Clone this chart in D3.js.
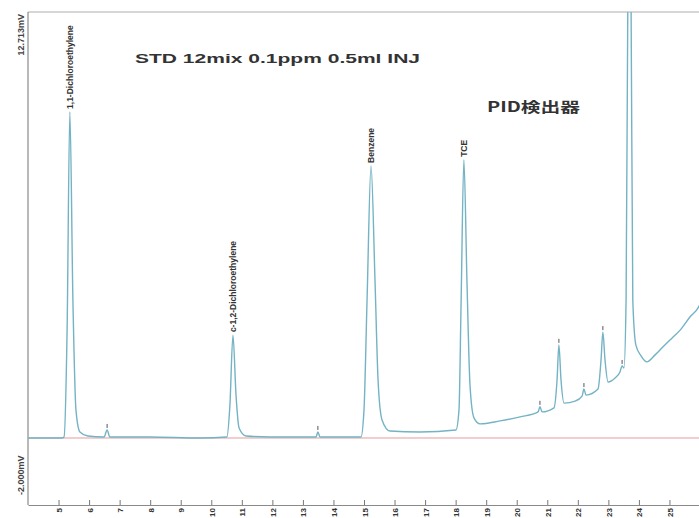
<!DOCTYPE html>
<html>
<head>
<meta charset="utf-8">
<script src="https://cdn.jsdelivr.net/npm/d3@7"></script>
<style>
  html, body { margin: 0; padding: 0; background: #fff; }
  svg { display: block; }
</style>
</head>
<body>
<svg id="chart" width="699" height="518"></svg>
<script>
// ---- data ----
const traceTime = [4.00, 5.11, 5.18, 5.28, 5.37, 5.47, 5.57, 5.70, 5.96, 6.49, 6.59, 6.68, 7.99, 9.63,
  10.51, 10.61, 10.71, 10.81, 10.91, 11.14, 11.92, 13.43, 13.49, 13.56, 14.90, 15.00, 15.10, 15.23,
  15.36, 15.46, 15.59, 15.85, 16.83, 18.01, 18.11, 18.18, 18.27, 18.37, 18.47, 18.60, 18.80, 19.45,
  20.11, 20.70, 20.76, 20.83, 21.22, 21.32, 21.38, 21.45, 21.55, 21.91, 22.14, 22.20, 22.27, 22.66,
  22.76, 22.82, 22.89, 22.99, 23.22, 23.38, 23.45, 23.51, 23.58, 23.64, 23.69, 23.74, 23.80, 23.90,
  24.07, 24.26, 24.53, 24.79, 25.08, 25.35, 25.67, 25.97, 26.00];
const traceMV = [0.00, 0.00, 0.03, 3.22, 9.73, 4.12, 0.84, 0.18, 0.06, 0.03, 0.24, 0.03, 0.03, 0.00,
  0.03, 0.98, 3.07, 1.28, 0.30, 0.06, 0.03, 0.03, 0.18, 0.03, 0.03, 0.84, 4.12, 8.12,
  4.71, 1.73, 0.54, 0.21, 0.18, 0.24, 0.84, 4.12, 8.30, 4.71, 1.58, 0.60, 0.42, 0.51,
  0.63, 0.78, 0.93, 0.78, 0.90, 1.73, 2.78, 1.73, 1.04, 1.10, 1.25, 1.46, 1.28, 1.46,
  2.33, 3.16, 2.33, 1.67, 1.79, 1.97, 2.15, 2.09, 4.12, 13.5, 16.0, 13.5, 4.12, 2.78,
  2.45, 2.27, 2.48, 2.72, 2.98, 3.22, 3.61, 3.94, 4.00];

const peakNames = ["1,1-Dichloroethylene", "c-1,2-Dichloroethylene", "Benzene", "TCE"];
const peakTimes = [5.37, 10.71, 15.23, 18.27];
const peakHeights = [9.73, 3.07, 8.12, 8.30];

const minorTimes = [6.59, 13.49, 20.76, 21.38, 22.20, 22.82, 23.45];
const minorHeights = [0.24, 0.18, 0.93, 2.78, 1.46, 3.16, 2.15];

const xTicks = d3.range(5, 26); // 5 .. 25
const yMax = 12.713, yMin = -2.000;
const yTopLabel = "12.713mV", yBottomLabel = "-2.000mV";
const title = "STD  12mix  0.1ppm  0.5ml  INJ";
const detector = "PID検出器";

// ---- drawing ----
const svg = d3.select("#chart");
const L = 28, R = 700, T = 12, B = 505;
const x = d3.scaleLinear().domain([4, 26]).range([L, R]);
const y = d3.scaleLinear().domain([yMin, yMax]).range([B, T]);

svg.append("defs").append("clipPath").attr("id", "plotclip")
  .append("rect").attr("x", L).attr("y", T).attr("width", 699 - L).attr("height", B - T);

// frame
svg.append("line").attr("x1", L).attr("x2", 699).attr("y1", T).attr("y2", T)
  .attr("stroke", "#c8c8c8").attr("stroke-width", 1.5);
svg.append("line").attr("x1", L).attr("x2", L).attr("y1", T).attr("y2", B)
  .attr("stroke", "#8a8a8a").attr("stroke-width", 1.2);

// bottom axis
const xAxis = d3.axisBottom(x).tickValues(xTicks).tickSizeInner(-5).tickSizeOuter(0).tickFormat("");
const gx = svg.append("g").attr("transform", `translate(0,${B})`).call(xAxis);
gx.select(".domain").attr("stroke", "#8a8a8a").attr("stroke-width", 1.2);
gx.selectAll(".tick line").attr("stroke", "#777");
gx.selectAll(".tick").append("text")
  .attr("transform", "rotate(-90)")
  .attr("x", -3).attr("y", 3)
  .attr("text-anchor", "end")
  .attr("fill", "#333")
  .style("font", "bold 8px 'Liberation Sans', Arial, sans-serif")
  .text(d => d);

// zero line
svg.append("line").attr("x1", L).attr("x2", 699).attr("y1", y(0)).attr("y2", y(0))
  .attr("stroke", "#e59a9a").attr("stroke-width", 1);

// trace
const pts = traceTime.map((t, i) => [t, traceMV[i]]);
const line = d3.line().x(d => x(d[0])).y(d => y(d[1])).curve(d3.curveMonotoneX);
svg.append("path").datum(pts).attr("clip-path", "url(#plotclip)")
  .attr("d", line).attr("fill", "none")
  .attr("stroke", "#74b3c4").attr("stroke-width", 1.4);

// minor peak marks
svg.append("g").selectAll("line").data(minorTimes).join("line")
  .attr("x1", d => x(d)).attr("x2", d => x(d))
  .attr("y1", (d, i) => y(minorHeights[i]) - 2).attr("y2", (d, i) => y(minorHeights[i]) - 6)
  .attr("stroke", "#555").attr("stroke-width", 1);

// peak labels
svg.append("g").selectAll("text").data(peakNames).join("text")
  .attr("transform", (d, i) => `translate(${x(peakTimes[i]) + 3},${y(peakHeights[i]) - 3}) rotate(-90)`)
  .attr("text-anchor", "start")
  .attr("fill", "#333")
  .style("font", "bold 8.5px 'Liberation Sans', Arial, sans-serif")
  .text(d => d);

// y labels
svg.append("text").attr("transform", `translate(24,${T + 2}) rotate(-90)`)
  .attr("text-anchor", "end").attr("fill", "#444")
  .style("font", "bold 9px 'Liberation Sans', Arial, sans-serif").text(yTopLabel);
svg.append("text").attr("transform", `translate(24,${B - 10}) rotate(-90)`)
  .attr("text-anchor", "start").attr("fill", "#444")
  .style("font", "bold 9px 'Liberation Sans', Arial, sans-serif").text(yBottomLabel);

// titles
svg.append("text").attr("x", 135).attr("y", 63)
  .attr("textLength", 285).attr("lengthAdjust", "spacingAndGlyphs")
  .attr("fill", "#333")
  .style("font", "bold 13px 'Liberation Sans', Arial, sans-serif").text(title);
svg.append("text").attr("x", 487).attr("y", 112)
  .attr("textLength", 93).attr("lengthAdjust", "spacingAndGlyphs")
  .attr("fill", "#333")
  .style("font", "bold 14px 'Noto Sans CJK JP', sans-serif").text(detector);
</script>
</body>
</html>
